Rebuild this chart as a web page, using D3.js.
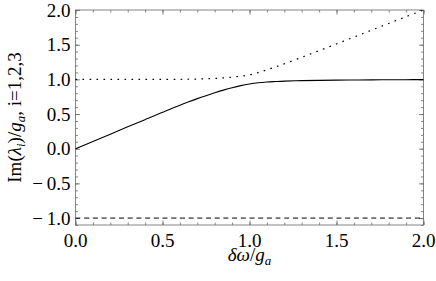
<!DOCTYPE html>
<html>
<head>
<meta charset="utf-8">
<script src="https://cdn.jsdelivr.net/npm/d3@7"></script>
<style>
  body { margin: 0; background: #fff; }
  svg { display: block; }
</style>
</head>
<body>
<svg id="chart" width="436" height="281"></svg>
<script>
const W = 436
const H = 281
const margins = { top: 10, bottom: 56, left: 75.5, right: 12.5 }
const FONT = 'Liberation Serif, Times New Roman, serif'
const FS = '19px'
const SUB = '13px'

// values
const xs = [0, 0.1, 0.2, 0.3, 0.4, 0.5, 0.6, 0.65, 0.7, 0.75, 0.8, 0.85, 0.9, 0.95, 1.0, 1.05, 1.1, 1.15, 1.2, 1.3, 1.4, 1.5, 1.6, 1.7, 1.8, 1.9, 2.0]
const solid = [0, 0.105, 0.21, 0.315, 0.42, 0.525, 0.628, 0.676, 0.722, 0.765, 0.806, 0.845, 0.88, 0.91, 0.933, 0.95, 0.961, 0.968, 0.974, 0.981, 0.986, 0.989, 0.991, 0.993, 0.994, 0.995, 0.996]
const dotted = [1.0, 1.0, 1.0, 1.0, 1.0, 1.0, 1.001, 1.002, 1.004, 1.008, 1.013, 1.021, 1.032, 1.046, 1.065, 1.098, 1.138, 1.18, 1.224, 1.318, 1.414, 1.511, 1.609, 1.708, 1.806, 1.904, 2.0]
const dashed = xs.map(() => -1)

const xMajor = [0, 0.5, 1.0, 1.5, 2.0]
const yMajor = [-1.0, -0.5, 0.0, 0.5, 1.0, 1.5, 2.0]
const xMinor = d3.range(0, 2.001, 0.1)
const yMinor = d3.range(-1.1, 2.001, 0.1)

const svg = d3.select('#chart')
const x = d3.scaleLinear().domain([0, 2]).range([margins.left, W - margins.right])
const y = d3.scaleLinear().domain([-1.1, 2]).range([H - margins.bottom, margins.top])

const frameColor = '#666'

function styleAxis(g) {
  g.select('.domain').remove()
  g.selectAll('line').attr('stroke', frameColor).attr('stroke-width', 0.8)
  g.selectAll('text').remove()
}

// ticks on all four sides, pointing inward (minor 0.1, major 0.5)
const sides = [
  [d3.axisBottom(x), `translate(0,${y.range()[0]})`, xMinor, xMajor],
  [d3.axisTop(x), `translate(0,${y.range()[1]})`, xMinor, xMajor],
  [d3.axisLeft(y), `translate(${x.range()[0]},0)`, yMinor, yMajor],
  [d3.axisRight(y), `translate(${x.range()[1]},0)`, yMinor, yMajor]
]
sides.forEach(([axis, tr, minor, major]) => {
  svg.append('g').attr('transform', tr)
    .call(axis.tickValues(minor).tickSize(-2.5).tickFormat(''))
    .call(styleAxis)
  svg.append('g').attr('transform', tr)
    .call(axis.tickValues(major).tickSize(-4.5).tickFormat(''))
    .call(styleAxis)
})

// tick labels
const fmt = d => (d < 0 ? '\u2212\u2009' : '') + Math.abs(d).toFixed(1)
svg.append('g').selectAll('text').data(xMajor).join('text')
  .attr('x', d => x(d)).attr('y', y.range()[0] + 22)
  .attr('text-anchor', 'middle')
  .attr('font-family', FONT).attr('font-size', FS).attr('fill', '#000')
  .text(fmt)
svg.append('g').selectAll('text').data(yMajor).join('text')
  .attr('x', x.range()[0] - 5).attr('y', d => y(d) + 6.5)
  .attr('text-anchor', 'end')
  .attr('font-family', FONT).attr('font-size', FS).attr('fill', '#000')
  .text(fmt)

// frame
svg.append('rect')
  .attr('x', x.range()[0]).attr('y', y.range()[1])
  .attr('width', x.range()[1] - x.range()[0])
  .attr('height', y.range()[0] - y.range()[1])
  .attr('fill', 'none').attr('stroke', frameColor).attr('stroke-width', 0.8)

const line = d3.line().x(d => x(d[0])).y(d => y(d[1])).curve(d3.curveCatmullRom.alpha(0.5))

svg.append('path').datum(d3.zip(xs, solid))
  .attr('d', line).attr('fill', 'none').attr('stroke', '#000').attr('stroke-width', 1.1)
svg.append('path').datum(d3.zip(xs, dotted))
  .attr('d', line).attr('fill', 'none').attr('stroke', '#000').attr('stroke-width', 1.2)
  .attr('stroke-dasharray', '1.6,5.4')
svg.append('path').datum(d3.zip(xs, dashed))
  .attr('d', line).attr('fill', 'none').attr('stroke', '#000').attr('stroke-width', 1)
  .attr('stroke-dasharray', '5,3.7')

// axis titles
const xt = svg.append('text')
  .attr('x', (x.range()[0] + x.range()[1]) / 2).attr('y', 261)
  .attr('text-anchor', 'middle').attr('font-family', FONT).attr('font-size', FS)
xt.append('tspan').attr('font-style', 'italic').text('δω')
xt.append('tspan').text('/')
xt.append('tspan').attr('font-style', 'italic').text('g')
xt.append('tspan').attr('font-style', 'italic').attr('font-size', SUB).attr('dy', 4).text('a')

const yt = svg.append('text')
  .attr('transform', `translate(21,${(y.range()[0] + y.range()[1]) / 2}) rotate(-90)`)
  .attr('text-anchor', 'middle').attr('font-family', FONT).attr('font-size', FS)
yt.append('tspan').text('Im(')
yt.append('tspan').attr('font-style', 'italic').text('λ')
yt.append('tspan').attr('font-style', 'italic').attr('font-size', SUB).attr('dy', 4).text('i')
yt.append('tspan').attr('dy', -4).text(')/')
yt.append('tspan').attr('font-style', 'italic').text('g')
yt.append('tspan').attr('font-style', 'italic').attr('font-size', SUB).attr('dy', 4).text('a')
yt.append('tspan').attr('dy', -4).text(', i=1,2,3')
</script>
</body>
</html>
